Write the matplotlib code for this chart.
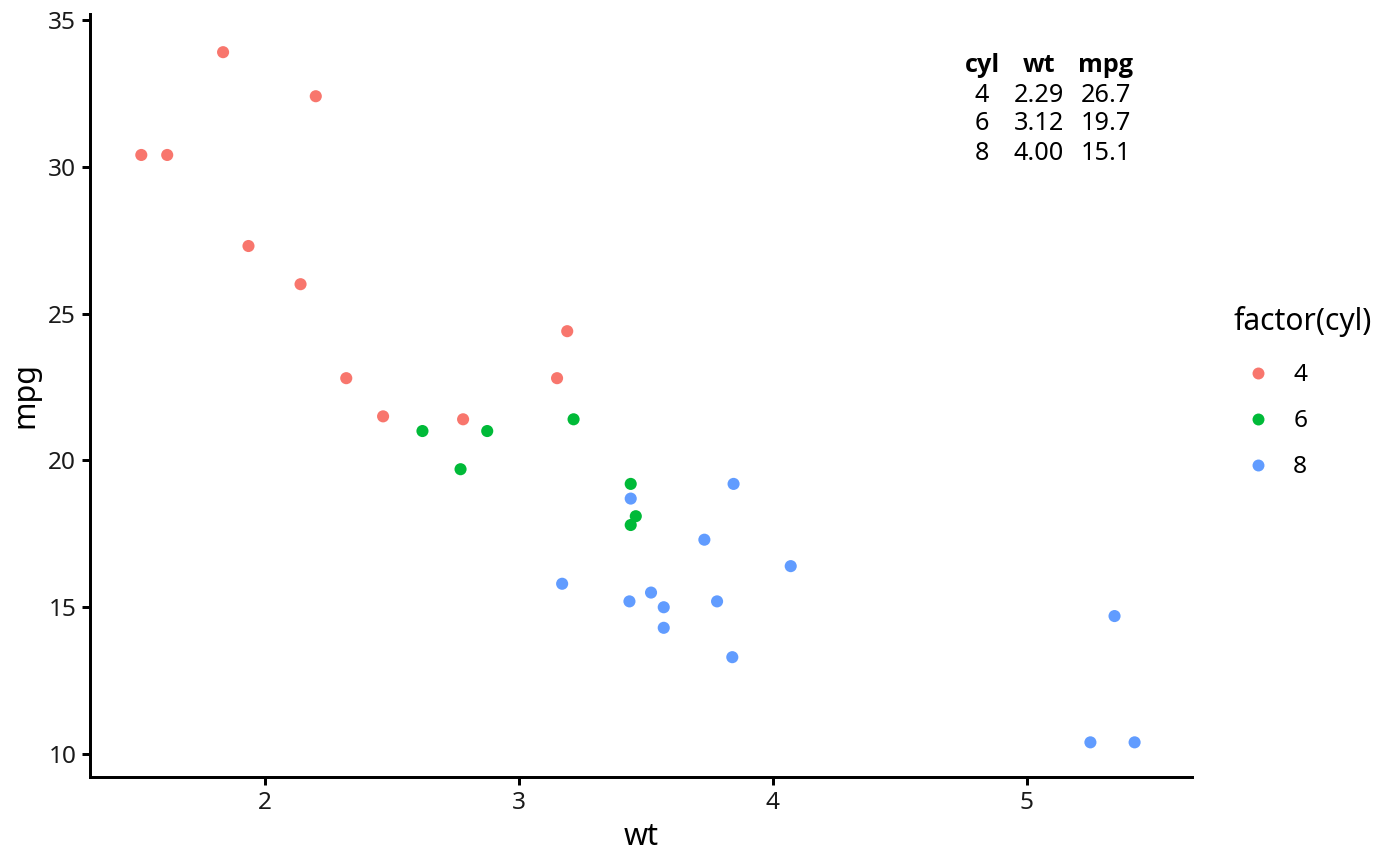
import matplotlib
matplotlib.use("Agg")
import matplotlib.pyplot as plt
from matplotlib.lines import Line2D
import numpy as np

plt.rcParams['font.family'] = ['Noto Sans', 'DejaVu Sans']

# mtcars data
wt = [2.620, 2.875, 2.320, 3.215, 3.440, 3.460, 3.570, 3.190, 3.150, 3.440,
      3.440, 4.070, 3.730, 3.780, 5.250, 5.424, 5.345, 2.200, 1.615, 1.835,
      2.465, 3.520, 3.435, 3.840, 3.845, 1.935, 2.140, 1.513, 3.170, 2.770,
      3.570, 2.780]
mpg = [21.0, 21.0, 22.8, 21.4, 18.7, 18.1, 14.3, 24.4, 22.8, 19.2,
       17.8, 16.4, 17.3, 15.2, 10.4, 10.4, 14.7, 32.4, 30.4, 33.9,
       21.5, 15.5, 15.2, 13.3, 19.2, 27.3, 26.0, 30.4, 15.8, 19.7,
       15.0, 21.4]
cyl = [6, 6, 4, 6, 8, 6, 8, 4, 4, 6,
       6, 8, 8, 8, 8, 8, 8, 4, 4, 4,
       4, 8, 8, 8, 8, 4, 4, 4, 8, 6,
       8, 4]
levels = [4, 6, 8]
colors = {4: '#F8766D', 6: '#00BA38', 8: '#619CFF'}

table_header = ['cyl', 'wt', 'mpg']
table_cyl = ['4', '6', '8']
table_wt = ['2.29', '3.12', '4.00']
table_mpg = ['26.7', '19.7', '15.1']

W, H = 1400, 866
dpi = 200
fig = plt.figure(figsize=(W / dpi, H / dpi), dpi=dpi)
ax = fig.add_axes([90 / W, 1 - 777 / H, (1192 - 90) / W, (777 - 14) / H])

wt_a = np.array(wt); mpg_a = np.array(mpg); cyl_a = np.array(cyl)
for lv in levels:
    m = cyl_a == lv
    ax.scatter(wt_a[m], mpg_a[m], s=19, color=colors[lv], edgecolors='none', zorder=3)

ax.set_xlim(1.311, 5.65)
ax.set_ylim(9.22, 35.2)
ax.set_xticks([2, 3, 4, 5])
ax.set_yticks([10, 15, 20, 25, 30, 35])

for s in ['top', 'right']:
    ax.spines[s].set_visible(False)
for s in ['left', 'bottom']:
    ax.spines[s].set_linewidth(1.07)
    ax.spines[s].set_color('black')
ax.tick_params(axis='both', length=2.75, width=1.07, color='black',
               labelsize=8.8, labelcolor='#1a1a1a', pad=2.2)
ax.set_xlabel('wt', fontsize=11, labelpad=2.5)
ax.set_ylabel('mpg', fontsize=11, labelpad=3)

# table annotation
col_x = [982, 1039, 1106]
row_y = [66, 95, 124, 153]
for cx, h in zip(col_x, table_header):
    fig.text(cx / W, 1 - row_y[0] / H, h, ha='center', va='center',
             fontsize=9.1, fontweight='bold', family=['Open Sans', 'DejaVu Sans'])
for i, (c, w_, m_) in enumerate(zip(table_cyl, table_wt, table_mpg)):
    for cx, val in zip(col_x, [c, w_, m_]):
        fig.text(cx / W, 1 - row_y[i + 1] / H, val, ha='center', va='center',
                 fontsize=9.1)

# legend
handles = [Line2D([0], [0], marker='o', linestyle='none', markersize=4.3,
                  markerfacecolor=colors[lv], markeredgecolor='none')
           for lv in levels]
leg = fig.legend(handles, [str(lv) for lv in levels], title='factor(cyl)',
                 loc='upper left', bbox_to_anchor=(1234 / W, 1 - 306 / H),
                 frameon=False, fontsize=8.8, title_fontsize=10.8,
                 handlelength=2.0, handletextpad=0.42, labelspacing=0.9,
                 borderaxespad=0, borderpad=0)
leg._legend_box.align = 'left'
leg._legend_box.sep = 0.9 * 8.8 + 1.5

fig.savefig('out.png', dpi=dpi, facecolor='white')
